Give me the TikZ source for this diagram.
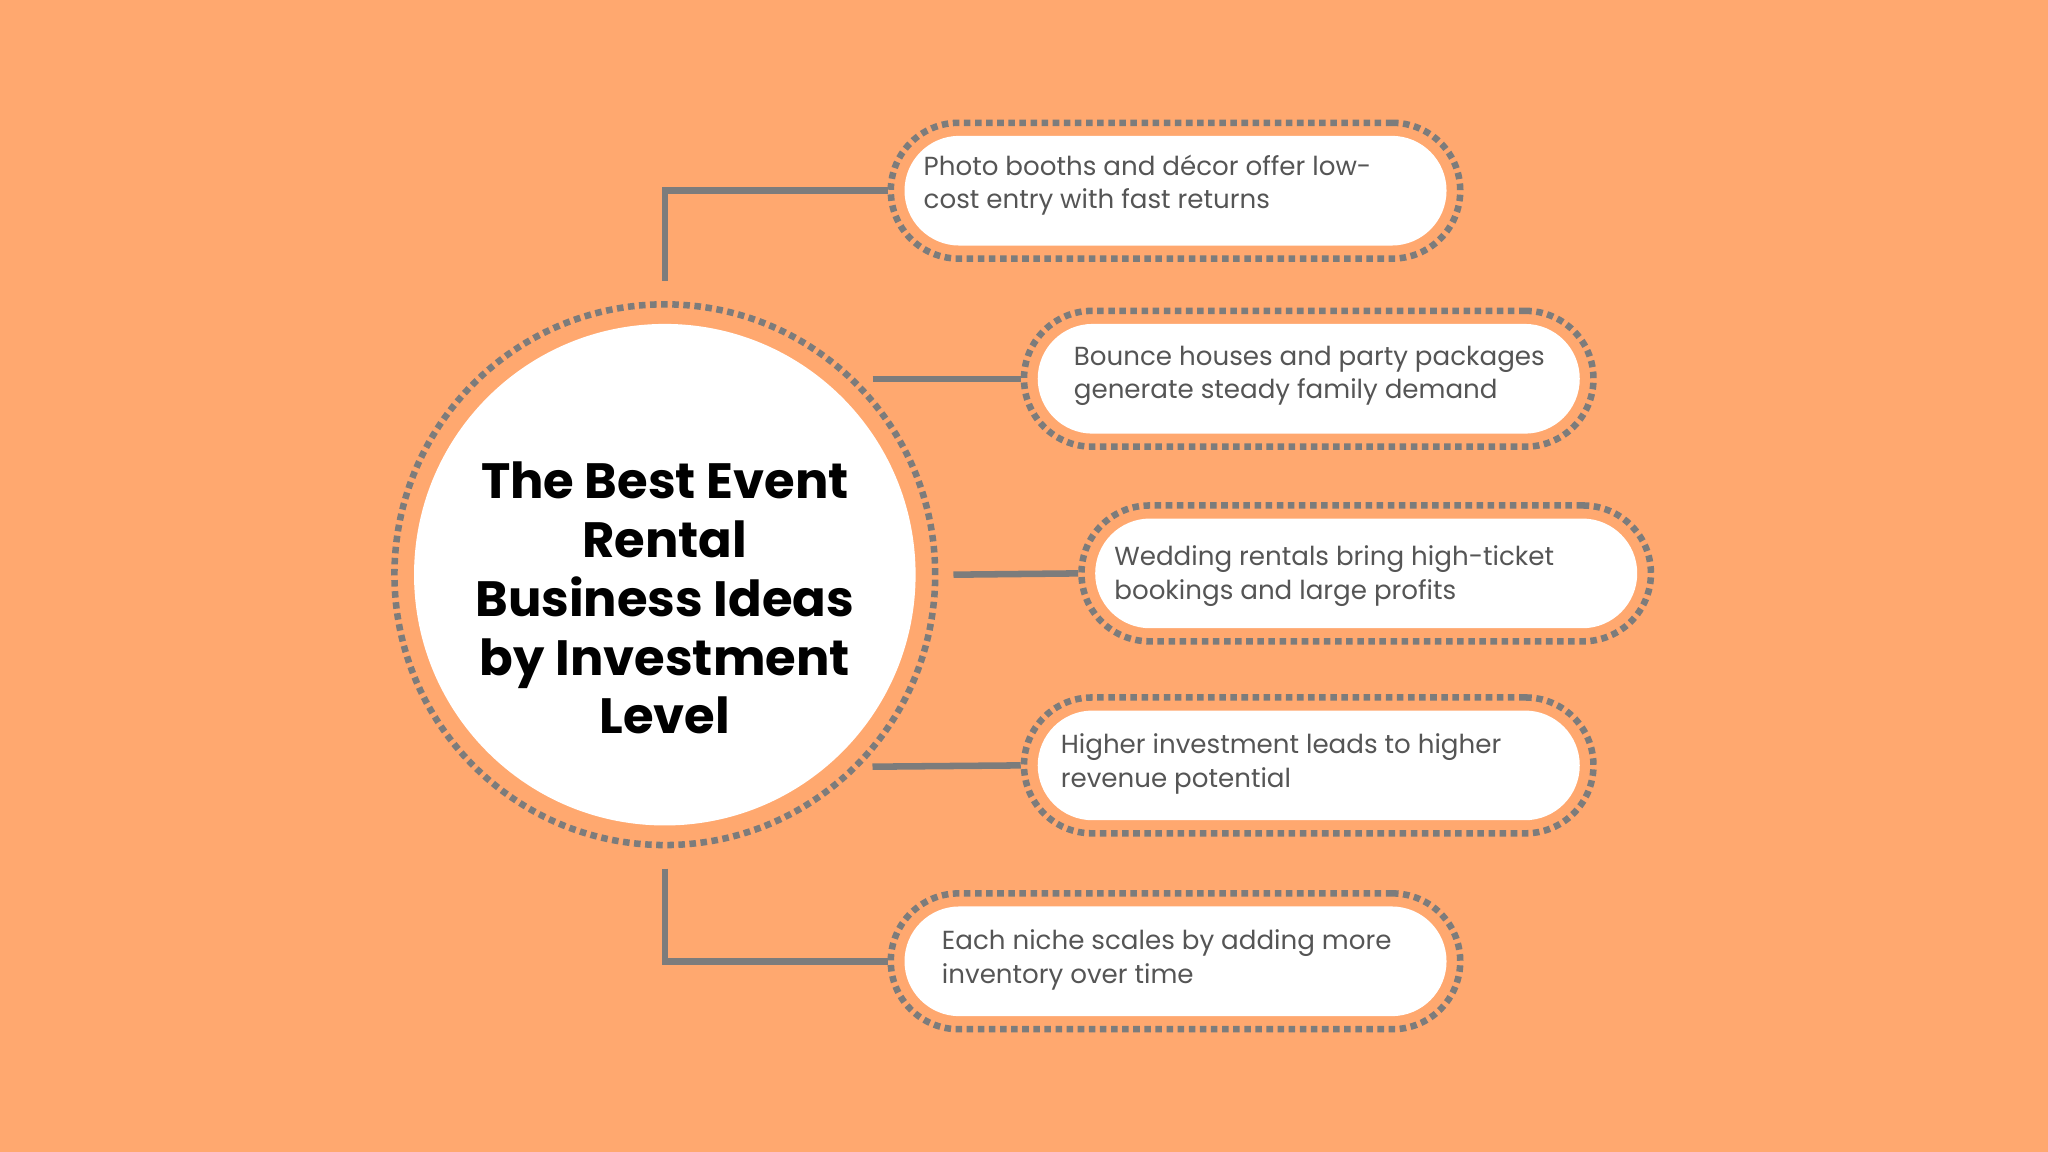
\documentclass[tikz,border=0pt]{standalone}
\usepackage{fontspec}
\setmainfont{Poppins}
\definecolor{bg}{HTML}{FFA86F}
\definecolor{gr}{HTML}{7C7C7C}
\definecolor{tx}{HTML}{555555}
\begin{document}
\begin{tikzpicture}[x=1pt,y=-1pt,
 ring/.style={draw=gr,line width=5pt,dash pattern=on 5pt off 3.5pt},
 pillout/.style={ring,minimum width=436pt,minimum height=104pt,rounded corners=52pt,inner sep=0},
 pillin/.style={fill=white,minimum width=415pt,minimum height=84pt,rounded corners=42pt,inner sep=0},
 ptext/.style={anchor=west,align=left,text=tx,font=\fontsize{20}{25.5}\selectfont,inner sep=0},
 conn/.style={draw=gr,line width=5pt}]
\fill[bg] (0,0) rectangle (1568,882);
\useasboundingbox (0,0) rectangle (1568,882);
\node[circle,ring,minimum size=414pt,inner sep=0] (cring) at (509,440) {};
\node[circle,fill=white,minimum size=384pt,inner sep=0] (c) at (509,440) {};
\node[align=center,font=\bfseries\fontsize{38}{45}\selectfont] (title) at (509,458) {The Best Event\\Rental\\Business Ideas\\by Investment\\Level};
\foreach \i/\x/\y in {1/900/146,2/1002/290,3/1046/439,4/1002/586,5/900/736}{
 \node[pillout] (po\i) at (\x,\y) {};
 \node[pillin] (pi\i) at (\x,\y) {};
}
\node[ptext] (t1) at (707,142) {Photo booths and décor offer low-\\cost entry with fast returns};
\node[ptext] (t2) at (822,288) {Bounce houses and party packages\\generate steady family demand};
\node[ptext] (t3) at (853,441) {Wedding rentals bring high-ticket\\bookings and large profits};
\node[ptext] (t4) at (812,585) {Higher investment leads to higher\\revenue potential};
\node[ptext] (t5) at (721,735) {Each niche scales by adding more\\inventory over time};
\coordinate (a1) at (509,215); \coordinate (a5) at (509,665);
\coordinate (b2) at (668,290); \coordinate (b3) at (730,440); \coordinate (b4) at (668,587);
\draw[conn] (a1) |- (po1.west);
\draw[conn] (b2) -- (po2.west);
\draw[conn] (b3) -- (po3.west);
\draw[conn] (b4) -- (po4.west);
\draw[conn] (a5) |- (po5.west);
\end{tikzpicture}
\end{document}
